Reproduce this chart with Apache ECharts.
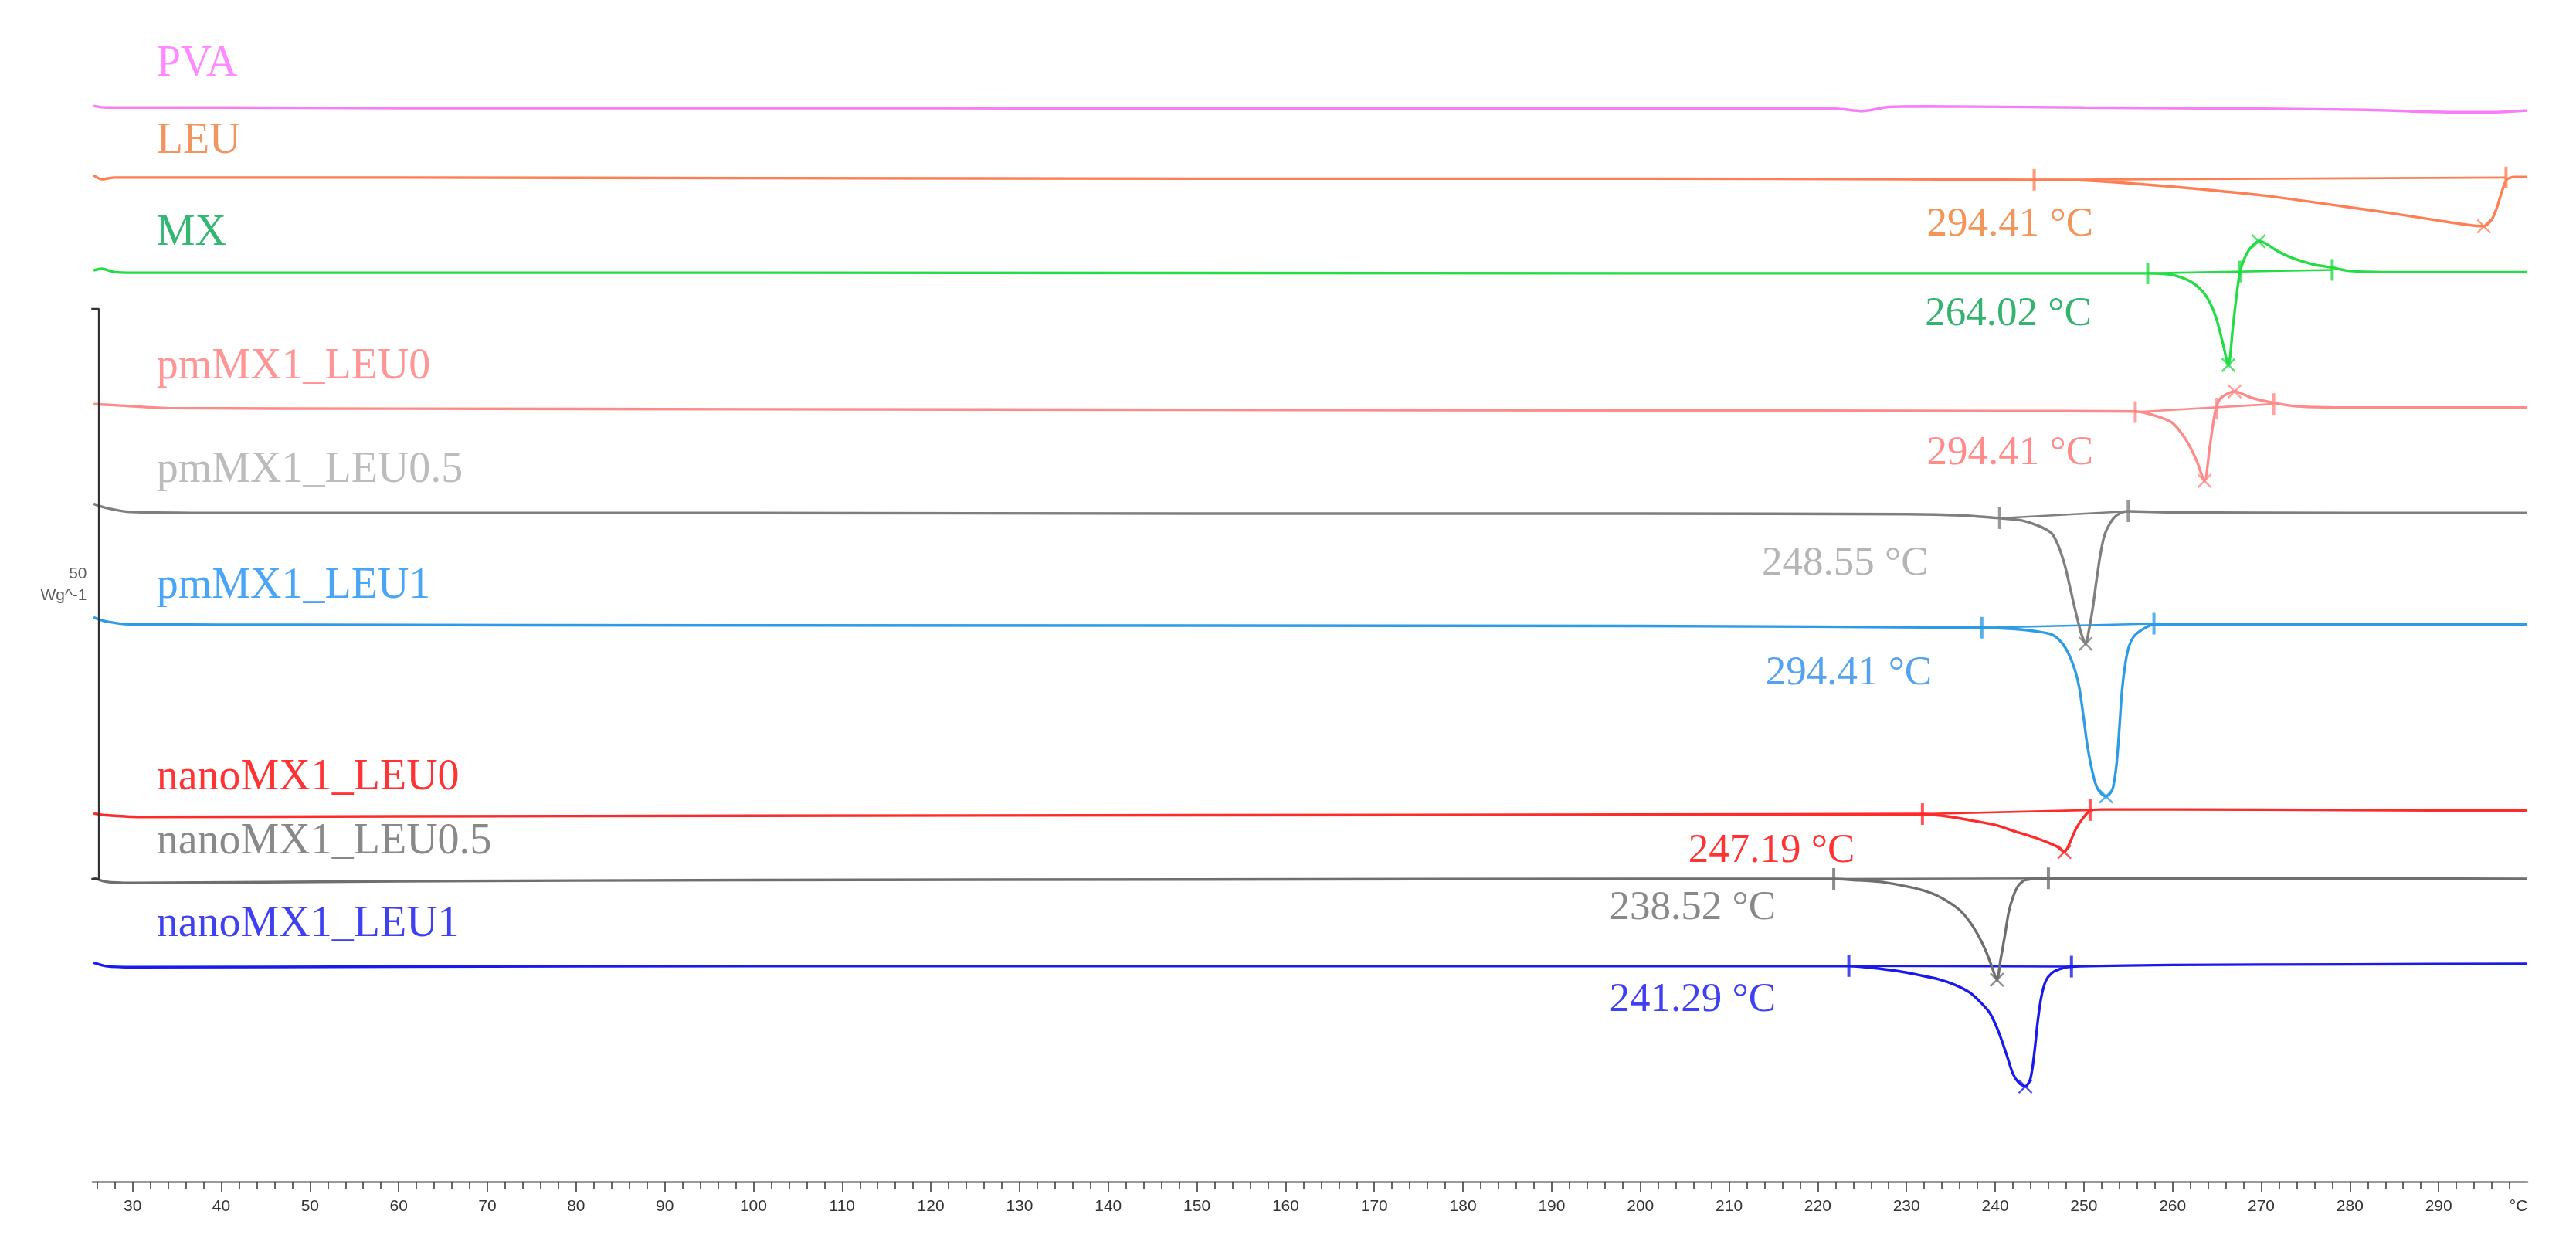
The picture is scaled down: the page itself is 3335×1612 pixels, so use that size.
<!DOCTYPE html>
<html>
<head>
<meta charset="utf-8">
<script src="https://cdn.jsdelivr.net/npm/echarts@6/dist/echarts.min.js"></script>
<style>
  html, body { margin: 0; padding: 0; background: #fff; }
  #chart { width: 3335px; height: 1612px; }
</style>
</head>
<body>
<div id="chart"></div>
<script>
// DSC thermograms: x = temperature (°C), y = heat flow (W/g), each curve shifted
const tempTicks = [30, 40, 50, 60, 70, 80, 90, 100, 110, 120, 130, 140, 150, 160, 170, 180, 190, 200, 210, 220, 230, 240, 250, 260, 270, 280, 290];

const pva = [[25.6,93.8],[27,93.65],[40,93.65],[60,93.6],[80,93.6],[100,93.6],[120,93.6],[140,93.55],[160,93.55],[180,93.55],[200,93.55],[215,93.55],[222,93.55],[225,93.35],[228,93.7],[232,93.75],[250,93.65],[270,93.55],[282,93.45],[288,93.3],[292,93.25],[296,93.25],[300,93.4]];
const leu = [[25.6,87.75],[26.5,87.4],[28,87.55],[60,87.55],[100,87.5],[150,87.45],[200,87.45],[230,87.4],[244.5,87.35],[250,87.3],[255,87.05],[260,86.75],[265,86.4],[270,86.0],[275,85.5],[280,84.95],[285,84.4],[290,83.8],[293,83.45],[295.1,83.3],[296,83.9],[296.6,85.0],[297.2,86.5],[297.7,87.4],[298.5,87.6],[300,87.6]];
const mx = [[25.6,79.45],[26.5,79.6],[28,79.3],[30,79.25],[100,79.25],[200,79.2],[257.2,79.2],[259,79.15],[260.3,79.0],[262,78.5],[263.4,77.6],[264.3,76.5],[265.0,75.1],[265.7,73.0],[266.3,71.2],[266.8,74.5],[267.3,77.8],[267.6,79.3],[268.0,80.3],[268.5,81.1],[269.0,81.6],[269.7,82.0],[270.5,81.8],[271.5,81.3],[272.3,80.95],[273.3,80.6],[274.4,80.3],[276,79.95],[278.0,79.7],[280,79.4],[285,79.3],[300,79.3]];
const pmLeu0 = [[25.6,67.8],[28,67.7],[34,67.45],[60,67.4],[100,67.35],[150,67.3],[200,67.25],[240,67.2],[255.8,67.15],[258.0,66.8],[259.9,66.2],[261.5,64.7],[262.7,62.9],[263.6,61.1],[264.2,64.1],[264.8,67.1],[265.4,68.3],[267.0,68.9],[268.9,68.35],[271.4,67.9],[274,67.6],[280,67.5],[300,67.5]];
const pmLeu05 = [[25.6,59.1],[27,58.75],[29.7,58.4],[40,58.3],[100,58.3],[150,58.25],[200,58.25],[230,58.2],[236,58.1],[240.5,57.85],[243,57.65],[245,57.15],[246.4,56.5],[247.2,55.3],[247.9,53.6],[248.5,51.6],[249.1,49.6],[249.7,47.8],[250.2,46.9],[250.6,48.2],[251.0,50.0],[251.4,52.3],[251.8,54.4],[252.2,56.0],[252.6,56.9],[253.3,57.8],[254.1,58.3],[255.0,58.45],[260,58.35],[280,58.3],[300,58.3]];
const pmLeu1 = [[25.6,49.2],[27,48.85],[29.7,48.6],[50,48.55],[100,48.5],[200,48.45],[238.5,48.3],[242,48.2],[244.5,48.0],[246.4,47.7],[247.5,47.0],[248.3,46.0],[249.0,44.6],[249.5,43.0],[250.0,40.3],[250.3,38.5],[250.8,36.3],[251.4,34.5],[252.0,33.8],[252.5,33.6],[253.0,33.9],[253.3,34.4],[253.7,36.5],[254.0,39.5],[254.3,42.8],[254.7,45.3],[255.1,46.7],[255.6,47.5],[256.3,48.0],[257.9,48.6],[260,48.6],[280,48.6],[300,48.6]];
const nanoLeu0 = [[25.6,32.1],[27,31.95],[31,31.8],[60,31.85],[100,31.9],[150,31.95],[200,32.0],[231.8,32.05],[235,31.8],[238.0,31.4],[240,31.1],[242.4,30.5],[244.5,30.0],[246.0,29.55],[247.0,29.2],[247.8,28.75],[248.5,29.7],[249.1,30.75],[249.9,31.7],[250.7,32.35],[252,32.45],[260,32.45],[280,32.4],[300,32.35]];
const nanoLeu05 = [[25.6,26.5],[27,26.15],[30,26.05],[60,26.2],[100,26.3],[150,26.35],[200,26.4],[221.8,26.4],[224,26.3],[226.9,26.15],[229,25.9],[231.4,25.5],[233.3,25.0],[234.9,24.3],[236.1,23.6],[237.1,22.7],[238.0,21.6],[238.9,20.2],[239.6,18.8],[240.2,17.6],[240.6,19.3],[241.1,21.5],[241.5,23.4],[242.0,24.8],[242.6,25.8],[243.4,26.3],[246.0,26.45],[250,26.45],[270,26.45],[300,26.4]];
const nanoLeu1 = [[25.6,19.1],[27,18.8],[30,18.7],[60,18.75],[100,18.8],[150,18.8],[200,18.8],[223.5,18.8],[226,18.65],[229.1,18.35],[231.5,18.0],[233.6,17.65],[235.5,17.15],[237.1,16.5],[238.4,15.6],[239.4,14.7],[240.1,13.6],[240.7,12.4],[241.4,10.8],[242.0,9.4],[242.7,8.6],[243.4,8.3],[243.9,8.8],[244.2,9.9],[244.5,11.8],[244.8,14.0],[245.2,16.1],[245.7,17.5],[246.4,18.2],[247.3,18.55],[248.6,18.75],[260,18.9],[280,18.95],[300,19.0]];

// integration limits and peak points picked on each curve
const leuLimits = [[244.4,87.35],[297.6,87.55]];
const leuPeaks = [[295.1,83.3]];
const mxLimits = [[257.2,79.2],[267.6,79.35],[278.0,79.5]];
const mxPeaks = [[266.3,71.2],[269.7,82.0]];
const pmLeu0Limits = [[255.8,67.1],[265.0,67.4],[271.4,67.8]];
const pmLeu0Peaks = [[263.6,61.1],[267.0,68.9]];
const pmLeu05Limits = [[240.5,57.85],[255.0,58.45]];
const pmLeu05Peaks = [[250.2,46.9]];
const pmLeu1Limits = [[238.5,48.3],[257.9,48.65]];
const pmLeu1Peaks = [[252.5,33.6]];
const nanoLeu0Limits = [[231.8,32.05],[250.7,32.4]];
const nanoLeu0Peaks = [[247.8,28.75]];
const nanoLeu05Limits = [[221.8,26.4],[246.0,26.45]];
const nanoLeu05Peaks = [[240.2,17.6]];
const nanoLeu1Limits = [[223.5,18.8],[248.6,18.75]];
const nanoLeu1Peaks = [[243.4,8.3]];

const peakTexts = ['294.41 °C', '264.02 °C', '294.41 °C', '248.55 °C', '294.41 °C', '247.19 °C', '238.52 °C', '241.29 °C'];

const scaleBar = { t: 26.2, from: 26.4, to: 76.1, label: '50', unit: 'Wg^-1' };

const curves = [
  { name: 'PVA', data: pva, line: '#F77EF7', text: '#FF6BFF', labelY: 97.4 },
  { name: 'LEU', data: leu, line: '#FF7F55', text: '#EE7A3A', labelY: 90.7, limits: leuLimits, peaks: leuPeaks, ann: 0, annPos: [232.3, 83.4], annColor: '#EE7A30' },
  { name: 'MX', data: mx, line: '#22DD44', text: '#00A550', labelY: 82.7, limits: mxLimits, peaks: mxPeaks, ann: 1, annPos: [232.1, 75.6], annColor: '#00A04A' },
  { name: 'pmMX1_LEU0', data: pmLeu0, line: '#FF8A8A', text: '#FF7C7C', labelY: 71.0, limits: pmLeu0Limits, peaks: pmLeu0Peaks, ann: 2, annPos: [232.3, 63.5], annColor: '#FF6E6E' },
  { name: 'pmMX1_LEU0.5', data: pmLeu05, line: '#7F7F7F', text: '#ABABAB', labelY: 62.0, limits: pmLeu05Limits, peaks: pmLeu05Peaks, ann: 3, annPos: [213.7, 53.9], annColor: '#A3A3A3' },
  { name: 'pmMX1_LEU1', data: pmLeu1, line: '#2E9BE6', text: '#1C8FF2', labelY: 51.9, limits: pmLeu1Limits, peaks: pmLeu1Peaks, ann: 4, annPos: [214.1, 44.3], annColor: '#2A8CEB' },
  { name: 'nanoMX1_LEU0', data: nanoLeu0, line: '#FF2A2A', text: '#FF0000', labelY: 35.2, limits: nanoLeu0Limits, peaks: nanoLeu0Peaks, ann: 5, annPos: [205.4, 28.8], annColor: '#FF0000' },
  { name: 'nanoMX1_LEU0.5', data: nanoLeu05, line: '#6F6F6F', text: '#6B6B6B', labelY: 29.6, limits: nanoLeu05Limits, peaks: nanoLeu05Peaks, ann: 6, annPos: [196.5, 23.8], annColor: '#6B6B6B' },
  { name: 'nanoMX1_LEU1', data: nanoLeu1, line: '#1A1AEE', text: '#1010F0', labelY: 22.4, limits: nanoLeu1Limits, peaks: nanoLeu1Peaks, ann: 7, annPos: [196.5, 15.8], annColor: '#1010F0' }
];

const minorTicks = [];
for (let t = 26; t <= 298; t += 2) {
  if (t % 10 !== 0) minorTicks.push(t);
}

const serif = '"Liberation Serif", "Times New Roman", serif';
const sans = '"Liberation Sans", Arial, sans-serif';

let series = [];
curves.forEach(c => {
  series.push({
    type: 'line', name: c.name, data: c.data, showSymbol: false, smooth: 0.25,
    lineStyle: { color: c.line, width: 3.4 }, z: 3
  });
  if (c.limits) {
    series.push({
      type: 'line', data: [c.limits[0], c.limits[c.limits.length - 1]], showSymbol: false,
      lineStyle: { color: c.line, width: 2.6 }, z: 2
    });
    series.push({
      type: 'scatter', data: c.limits, symbol: 'rect', symbolSize: [4, 28],
      itemStyle: { color: c.line }, z: 4
    });
    series.push({
      type: 'scatter', data: c.peaks, symbol: 'path://M0,0L10,10M10,0L0,10', symbolSize: 17,
      itemStyle: { color: 'none', borderColor: c.line, borderWidth: 2.4 }, z: 4
    });
  }
});

// curve names and peak temperatures as text anchored in data space
series.push({
  type: 'scatter', symbolSize: 0, silent: true, clip: false, z: 5,
  label: { show: true, position: [0, 0], align: 'left', verticalAlign: 'middle', fontFamily: serif, fontSize: 56 },
  data: curves.map(c => ({ value: [32.7, c.labelY], label: { formatter: c.name, color: c.text } }))
});
series.push({
  type: 'scatter', symbolSize: 0, silent: true, clip: false, z: 5,
  label: { show: true, position: [0, 0], align: 'left', verticalAlign: 'middle', fontFamily: serif, fontSize: 53 },
  data: curves.filter(c => c.annPos).map(c => ({ value: c.annPos, label: { formatter: peakTexts[c.ann], color: c.annColor } }))
});

// 50 W/g scale bar at the left
series.push({
  type: 'line', showSymbol: false, clip: false, z: 3,
  lineStyle: { color: '#333', width: 2.4 },
  data: [[25.35, scaleBar.to], [scaleBar.t, scaleBar.to], [scaleBar.t, scaleBar.from], [25.35, scaleBar.from]]
});
series.push({
  type: 'scatter', symbolSize: 0, silent: true, clip: false, z: 5,
  label: { show: true, position: [0, 0], align: 'right', verticalAlign: 'middle', fontFamily: sans, fontSize: 21, color: '#333' },
  data: [
    { value: [24.85, 53.0], label: { formatter: scaleBar.label } },
    { value: [24.85, 51.1], label: { formatter: scaleBar.unit } }
  ]
});

let myChart = echarts.init(document.getElementById('chart'));
let option = {
  animation: false,
  backgroundColor: '#fff',
  grid: { left: 120, right: 63, top: 45, bottom: 82 },
  xAxis: [
    {
      type: 'value', min: 25.5, max: 300, position: 'bottom',
      axisLine: { show: true, lineStyle: { color: '#9a9a9a', width: 3 } },
      axisTick: { show: true, customValues: tempTicks, length: 14, lineStyle: { color: '#333', width: 1.5 } },
      axisLabel: {
        show: true, customValues: tempTicks.concat([299]), margin: 22,
        fontFamily: sans, fontSize: 21, color: '#333',
        formatter: v => (v === 299 ? '°C' : String(v))
      },
      splitLine: { show: false }
    },
    {
      type: 'value', min: 25.5, max: 300, position: 'bottom',
      axisLine: { show: false },
      axisTick: { show: true, customValues: minorTicks, length: 10, lineStyle: { color: '#333', width: 1.5 } },
      axisLabel: { show: false },
      splitLine: { show: false }
    }
  ],
  yAxis: { type: 'value', min: 0, max: 100, show: false },
  series: series
};
option && myChart.setOption(option);
</script>
</body>
</html>
